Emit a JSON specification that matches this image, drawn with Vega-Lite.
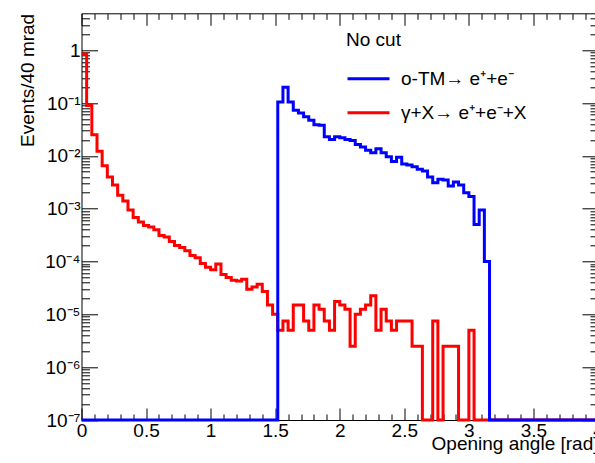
{
  "$schema": "https://vega.github.io/schema/vega-lite/v6.json",
  "width": 516.5,
  "height": 406.7,
  "autosize": {"type": "none"},
  "padding": {"left": 81.5, "top": 13.3, "right": -3, "bottom": 43},
  "background": "white",
  "config": {
    "view": {"stroke": null},
    "font": "Liberation Sans",
    "axis": {
      "domainColor": "black", "domainWidth": 1, "tickColor": "black", "tickWidth": 1,
      "labelColor": "black", "labelFont": "Liberation Sans", "labelFontSize": 19,
      "titleFont": "Liberation Sans", "titleFontSize": 19, "titleFontWeight": "normal", "titleColor": "black",
      "grid": false, "labelFlush": false, "labelOverlap": false, "labelBound": false
    },
    "legend": {
      "titleFont": "Liberation Sans", "titleFontSize": 19, "titleFontWeight": "normal", "titleColor": "black",
      "labelFont": "Liberation Sans", "labelFontSize": 19, "labelColor": "black", "labelLimit": 400
    }
  },
  "data": {"values": [
    {"x": 0, "gamma": 0.85, "otm": 0},
    {"x": 0.04, "gamma": 0.09, "otm": 0},
    {"x": 0.08, "gamma": 0.025, "otm": 0},
    {"x": 0.12, "gamma": 0.0123, "otm": 0},
    {"x": 0.16, "gamma": 0.0065, "otm": 0},
    {"x": 0.2, "gamma": 0.004, "otm": 0},
    {"x": 0.24, "gamma": 0.0028, "otm": 0},
    {"x": 0.28, "gamma": 0.0018, "otm": 0},
    {"x": 0.32, "gamma": 0.0014, "otm": 0},
    {"x": 0.36, "gamma": 0.00094, "otm": 0},
    {"x": 0.4, "gamma": 0.00068, "otm": 0},
    {"x": 0.44, "gamma": 0.00056, "otm": 0},
    {"x": 0.48, "gamma": 0.00048, "otm": 0},
    {"x": 0.52, "gamma": 0.00045, "otm": 0},
    {"x": 0.56, "gamma": 0.0004, "otm": 0},
    {"x": 0.6, "gamma": 0.00031, "otm": 0},
    {"x": 0.64, "gamma": 0.00029, "otm": 0},
    {"x": 0.68, "gamma": 0.00024, "otm": 0},
    {"x": 0.72, "gamma": 0.0002, "otm": 0},
    {"x": 0.76, "gamma": 0.000185, "otm": 0},
    {"x": 0.8, "gamma": 0.00016, "otm": 0},
    {"x": 0.84, "gamma": 0.00013, "otm": 0},
    {"x": 0.88, "gamma": 0.000118, "otm": 0},
    {"x": 0.92, "gamma": 0.000092, "otm": 0},
    {"x": 0.96, "gamma": 0.000078, "otm": 0},
    {"x": 1.0, "gamma": 0.00007, "otm": 0},
    {"x": 1.04, "gamma": 0.00009, "otm": 0},
    {"x": 1.08, "gamma": 0.000057, "otm": 0},
    {"x": 1.12, "gamma": 0.00005, "otm": 0},
    {"x": 1.16, "gamma": 0.000044, "otm": 0},
    {"x": 1.2, "gamma": 0.000043, "otm": 0},
    {"x": 1.24, "gamma": 0.000046, "otm": 0},
    {"x": 1.28, "gamma": 0.00003, "otm": 0},
    {"x": 1.32, "gamma": 0.000033, "otm": 0},
    {"x": 1.36, "gamma": 0.000037, "otm": 0},
    {"x": 1.4, "gamma": 0.000027, "otm": 0},
    {"x": 1.44, "gamma": 0.000015, "otm": 0},
    {"x": 1.48, "gamma": 0.00001, "otm": 0},
    {"x": 1.52, "gamma": 0.000005, "otm": 0.105},
    {"x": 1.56, "gamma": 0.0000075, "otm": 0.2},
    {"x": 1.6, "gamma": 0.000005, "otm": 0.105},
    {"x": 1.64, "gamma": 0.000015, "otm": 0.073},
    {"x": 1.68, "gamma": 0.000015, "otm": 0.065},
    {"x": 1.72, "gamma": 0.0000075, "otm": 0.055},
    {"x": 1.76, "gamma": 0.000005, "otm": 0.047},
    {"x": 1.8, "gamma": 0.000015, "otm": 0.039},
    {"x": 1.84, "gamma": 0.0000125, "otm": 0.038},
    {"x": 1.88, "gamma": 0.0000075, "otm": 0.023},
    {"x": 1.92, "gamma": 0.000005, "otm": 0.0205},
    {"x": 1.96, "gamma": 0.0000175, "otm": 0.023},
    {"x": 2.0, "gamma": 0.000015, "otm": 0.022},
    {"x": 2.04, "gamma": 0.0000125, "otm": 0.0205},
    {"x": 2.08, "gamma": 0.0000025, "otm": 0.0195},
    {"x": 2.12, "gamma": 0.00001, "otm": 0.0165},
    {"x": 2.16, "gamma": 0.0000125, "otm": 0.0148},
    {"x": 2.2, "gamma": 0.000015, "otm": 0.0128},
    {"x": 2.24, "gamma": 0.0000225, "otm": 0.0114},
    {"x": 2.28, "gamma": 0.000005, "otm": 0.0137},
    {"x": 2.32, "gamma": 0.0000125, "otm": 0.0114},
    {"x": 2.36, "gamma": 0.0000075, "otm": 0.0096},
    {"x": 2.4, "gamma": 0.000005, "otm": 0.0078},
    {"x": 2.44, "gamma": 0.0000075, "otm": 0.0094},
    {"x": 2.48, "gamma": 0.0000075, "otm": 0.007},
    {"x": 2.52, "gamma": 0.0000075, "otm": 0.0067},
    {"x": 2.56, "gamma": 0.0000025, "otm": 0.0062},
    {"x": 2.6, "gamma": 0.0000025, "otm": 0.0056},
    {"x": 2.64, "gamma": 0, "otm": 0.0052},
    {"x": 2.68, "gamma": 0, "otm": 0.004},
    {"x": 2.72, "gamma": 0.0000075, "otm": 0.0031},
    {"x": 2.76, "gamma": 0, "otm": 0.0036},
    {"x": 2.8, "gamma": 0.0000025, "otm": 0.0035},
    {"x": 2.84, "gamma": 0.0000025, "otm": 0.0027},
    {"x": 2.88, "gamma": 0.0000025, "otm": 0.0032},
    {"x": 2.92, "gamma": 0, "otm": 0.0028},
    {"x": 2.96, "gamma": 0, "otm": 0.002},
    {"x": 3.0, "gamma": 0.000005, "otm": 0.0017},
    {"x": 3.04, "gamma": 0, "otm": 0.0005},
    {"x": 3.08, "gamma": 0, "otm": 0.00095},
    {"x": 3.12, "gamma": 0, "otm": 0.0001},
    {"x": 3.16, "gamma": 0, "otm": 0},
    {"x": 3.2, "gamma": 0, "otm": 0},
    {"x": 3.24, "gamma": 0, "otm": 0},
    {"x": 3.28, "gamma": 0, "otm": 0},
    {"x": 3.32, "gamma": 0, "otm": 0},
    {"x": 3.36, "gamma": 0, "otm": 0},
    {"x": 3.4, "gamma": 0, "otm": 0},
    {"x": 3.44, "gamma": 0, "otm": 0},
    {"x": 3.48, "gamma": 0, "otm": 0},
    {"x": 3.52, "gamma": 0, "otm": 0},
    {"x": 3.56, "gamma": 0, "otm": 0},
    {"x": 3.6, "gamma": 0, "otm": 0},
    {"x": 3.64, "gamma": 0, "otm": 0},
    {"x": 3.68, "gamma": 0, "otm": 0},
    {"x": 3.72, "gamma": 0, "otm": 0},
    {"x": 3.76, "gamma": 0, "otm": 0},
    {"x": 3.8, "gamma": 0, "otm": 0},
    {"x": 3.84, "gamma": 0, "otm": 0},
    {"x": 3.88, "gamma": 0, "otm": 0},
    {"x": 3.92, "gamma": 0, "otm": 0},
    {"x": 3.96, "gamma": 0, "otm": 0},
    {"x": 4.0, "gamma": 0, "otm": 0}
  ]},
  "layer": [
    {
      "mark": {"type": "line", "interpolate": "step-after", "strokeWidth": 3, "clip": false},
      "encoding": {
        "x": {
          "field": "x", "type": "quantitative",
          "scale": {"domain": [0, 4], "nice": false, "zero": false},
          "axis": {
            "orient": "bottom", "format": "~g",
            "values": [0,0.1,0.2,0.3,0.4,0.5,0.6,0.7,0.8,0.9,1,1.1,1.2,1.3,1.4,1.5,1.6,1.7,1.8,1.9,2,2.1,2.2,2.3,2.4,2.5,2.6,2.7,2.8,2.9,3,3.1,3.2,3.3,3.4,3.5,3.6,3.7,3.8,3.9,4],
            "labelExpr": "abs(datum.value*2-round(datum.value*2)) < 0.000001 ? datum.label : ''",
            "tickSize": {"condition": {"test": "abs(datum.value*2-round(datum.value*2)) < 0.000001", "value": -12}, "value": -6},
            "labelPadding": 13,
            "title": "Opening angle [rad]",
            "titleAnchor": "end", "titleAlign": "right", "titleBaseline": "alphabetic",
            "titleX": 516.5, "titleY": 29
          }
        },
        "y": {
          "field": "gamma", "type": "quantitative",
          "scale": {"type": "log", "domain": [0.0000001, 5], "nice": false, "clamp": true},
          "axis": {
            "orient": "left",
            "values": [1e-7,2e-7,3e-7,4e-7,5e-7,6e-7,7e-7,8e-7,9e-7,1e-6,2e-6,3e-6,4e-6,5e-6,6e-6,7e-6,8e-6,9e-6,1e-5,2e-5,3e-5,4e-5,5e-5,6e-5,7e-5,8e-5,9e-5,1e-4,2e-4,3e-4,4e-4,5e-4,6e-4,7e-4,8e-4,9e-4,0.001,0.002,0.003,0.004,0.005,0.006,0.007,0.008,0.009,0.01,0.02,0.03,0.04,0.05,0.06,0.07,0.08,0.09,0.1,0.2,0.3,0.4,0.5,0.6,0.7,0.8,0.9,1,2,3,4],
            "labelExpr": "abs(log(datum.value)/LN10 - round(log(datum.value)/LN10)) < 0.001 ? (round(log(datum.value)/LN10) == 0 ? '1' : '10⁻' + ['','¹','²','³','⁴','⁵','⁶','⁷'][-round(log(datum.value)/LN10)]) : ''",
            "tickSize": {"condition": {"test": "abs(log(datum.value)/LN10 - round(log(datum.value)/LN10)) < 0.001", "value": -16}, "value": -8},
            "labelPadding": 17.5,
            "title": "Events/40 mrad",
            "titleAngle": -90, "titleAlign": "right", "titleBaseline": "alphabetic",
            "titleX": -48.5, "titleY": 0
          }
        },
        "color": {
          "datum": "γ+X→ e⁺+e⁻+X",
          "scale": {"domain": ["o-TM→ e⁺+e⁻", "γ+X→ e⁺+e⁻+X"], "range": ["#0000ff", "#ff0000"]},
          "legend": {
            "orient": "none", "legendX": 264.5, "legendY": 18, "title": "No cut",
            "padding": 0, "titlePadding": 6, "symbolType": "stroke", "symbolSize": 1764,
            "symbolStrokeWidth": 3, "labelOffset": 10, "rowPadding": 1, "symbolOffset": 0
          }
        }
      }
    },
    {
      "mark": {"type": "line", "interpolate": "step-after", "strokeWidth": 3, "clip": false},
      "encoding": {
        "x": {
          "field": "x", "type": "quantitative",
          "axis": {
            "orient": "top", "labels": false, "title": null,
            "values": [0,0.1,0.2,0.3,0.4,0.5,0.6,0.7,0.8,0.9,1,1.1,1.2,1.3,1.4,1.5,1.6,1.7,1.8,1.9,2,2.1,2.2,2.3,2.4,2.5,2.6,2.7,2.8,2.9,3,3.1,3.2,3.3,3.4,3.5,3.6,3.7,3.8,3.9,4],
            "tickSize": {"condition": {"test": "abs(datum.value*2-round(datum.value*2)) < 0.000001", "value": -12}, "value": -6}
          }
        },
        "y": {
          "field": "otm", "type": "quantitative",
          "axis": {
            "orient": "right", "labels": false, "title": null,
            "values": [1e-7,2e-7,3e-7,4e-7,5e-7,6e-7,7e-7,8e-7,9e-7,1e-6,2e-6,3e-6,4e-6,5e-6,6e-6,7e-6,8e-6,9e-6,1e-5,2e-5,3e-5,4e-5,5e-5,6e-5,7e-5,8e-5,9e-5,1e-4,2e-4,3e-4,4e-4,5e-4,6e-4,7e-4,8e-4,9e-4,0.001,0.002,0.003,0.004,0.005,0.006,0.007,0.008,0.009,0.01,0.02,0.03,0.04,0.05,0.06,0.07,0.08,0.09,0.1,0.2,0.3,0.4,0.5,0.6,0.7,0.8,0.9,1,2,3,4],
            "tickSize": {"condition": {"test": "abs(log(datum.value)/LN10 - round(log(datum.value)/LN10)) < 0.001", "value": -16}, "value": -8}
          }
        },
        "color": {"datum": "o-TM→ e⁺+e⁻"}
      }
    }
  ],
  "resolve": {"axis": {"x": "independent", "y": "independent"}}
}
